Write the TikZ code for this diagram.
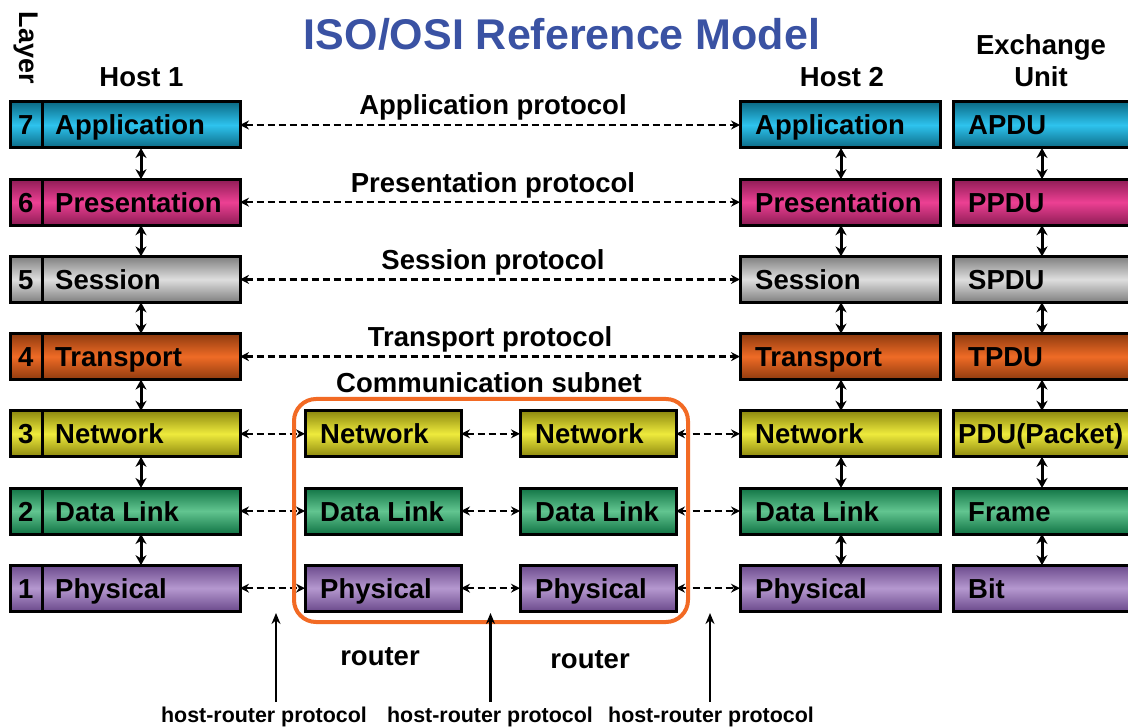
\documentclass[tikz,border=0pt]{standalone}
\usepackage{fontspec}
\setmainfont{Liberation Sans}
\usetikzlibrary{arrows.meta}
\definecolor{appL}{HTML}{2EC3EE}\definecolor{appD}{HTML}{0B6A85}
\definecolor{preL}{HTML}{EC4093}\definecolor{preD}{HTML}{8E1C55}
\definecolor{sesL}{HTML}{DEDEDE}\definecolor{sesD}{HTML}{7E7E7E}
\definecolor{traL}{HTML}{EF6B26}\definecolor{traD}{HTML}{8E3A0E}
\definecolor{netL}{HTML}{EEEA3C}\definecolor{netD}{HTML}{8C880F}
\definecolor{datL}{HTML}{62C590}\definecolor{datD}{HTML}{117445}
\definecolor{phyL}{HTML}{B598CF}\definecolor{phyD}{HTML}{6B4A8C}
\definecolor{subnetorange}{HTML}{F26A24}
\definecolor{titleblue}{HTML}{3A52A3}
\begin{document}
\begin{tikzpicture}[x=1pt,y=-1pt,
  layerbox/.style={draw=black, line width=3pt, minimum height=46pt, inner sep=0pt, outer sep=0pt},
  shapp/.style={top color=appD, bottom color=appD, middle color=appL},
  shpre/.style={top color=preD, bottom color=preD, middle color=preL},
  shses/.style={top color=sesD, bottom color=sesD, middle color=sesL},
  shtra/.style={top color=traD, bottom color=traD, middle color=traL},
  shnet/.style={top color=netD, bottom color=netD, middle color=netL},
  shdat/.style={top color=datD, bottom color=datD, middle color=datL},
  shphy/.style={top color=phyD, bottom color=phyD, middle color=phyL},
  lbl/.style={font=\bfseries\fontsize{27.5}{30}\selectfont, inner sep=0pt, anchor=base west},
  clbl/.style={font=\bfseries\fontsize{27.5}{30}\selectfont, inner sep=0pt, anchor=base},
  smlbl/.style={font=\bfseries\fontsize{21.4}{24}\selectfont, inner sep=0pt, anchor=base},
  vertarr/.style={line width=3pt, {Stealth[length=10pt,width=11pt]}-{Stealth[length=10pt,width=11pt]}},
  dasharr/.style={line width=2.5pt, dash pattern=on 7pt off 4pt, {Stealth[length=9pt,width=9pt]}-{Stealth[length=9pt,width=9pt]}},
  uparr/.style={line width=2.5pt, -{Stealth[length=11pt,width=9pt]}}
]
\useasboundingbox (0,0) rectangle (1128,727);
\clip (0,0) rectangle (1128,727);

% title and headers
\node[font=\bfseries\fontsize{43}{46}\selectfont, text=titleblue, inner sep=0pt, anchor=base] (title) at (562,50) {ISO/OSI Reference Model};
\node[font=\bfseries\fontsize{27}{30}\selectfont, inner sep=0pt, rotate=-90] (layer) at (26,48) {Layer};
\node[clbl] (host1) at (141.5,87) {Host 1};
\node[clbl] (host2) at (842,87) {Host 2};
\node[clbl] (exch1) at (1041,55) {Exchange};
\node[clbl] (exch2) at (1041,87) {Unit};

% hosts and exchange units, rows 7..1
\foreach \n/\y/\sh/\name/\pdu/\px in {7/125/shapp/Application/APDU/968,6/202.2/shpre/Presentation/PPDU/968,5/279.4/shses/Session/SPDU/968,4/356.6/shtra/Transport/TPDU/968,3/433.8/shnet/Network/PDU(Packet)/958,2/511/shdat/Data Link/Frame/968,1/588.2/shphy/Physical/Bit/968}{
  \node[layerbox,\sh,minimum width=230] (ha\n) at (125,\y) {};
  \draw[line width=3pt] (42,\y-23) -- (42,\y+23);
  \node[lbl] (hanum\n) at (18,\y+10) {\n};
  \node[lbl] (hatxt\n) at (55,\y+10) {\name};
  \node[layerbox,\sh,minimum width=200] (hb\n) at (840,\y) {};
  \node[lbl] (hbtxt\n) at (755,\y+10) {\name};
  \node[layerbox,\sh,minimum width=187] (ex\n) at (1046.5,\y) {};
  \node[lbl] (extxt\n) at (\px,\y+10) {\pdu};
}

% routers, rows 3..1
\foreach \n/\y/\sh/\name in {3/433.8/shnet/Network,2/511/shdat/Data Link,1/588.2/shphy/Physical}{
  \node[layerbox,\sh,minimum width=156] (ra\n) at (383,\y) {};
  \node[lbl] (ratxt\n) at (320,\y+10) {\name};
  \node[layerbox,\sh,minimum width=156] (rb\n) at (598,\y) {};
  \node[lbl] (rbtxt\n) at (535,\y+10) {\name};
}

% vertical arrows
\foreach \a/\b in {7/6,6/5,5/4,4/3,3/2,2/1}{
  \draw[vertarr] ([xshift=16pt]ha\a.south) -- ([xshift=16pt]ha\b.north);
  \draw[vertarr] ([xshift=1pt]hb\a.south) -- ([xshift=1pt]hb\b.north);
  \draw[vertarr] ([xshift=-4.5pt]ex\a.south) -- ([xshift=-4.5pt]ex\b.north);
}

% peer protocols
\foreach \n in {7,6,5,4}{
  \draw[dasharr] (ha\n.east) -- (hb\n.west);
}
\foreach \n in {3,2,1}{
  \draw[dasharr] (ha\n.east) -- (ra\n.west);
  \draw[dasharr] (ra\n.east) -- (rb\n.west);
  \draw[dasharr] (rb\n.east) -- (hb\n.west);
}
\node[clbl] (papp) at (493,115) {Application protocol};
\node[clbl] (ppre) at (493,192.2) {Presentation protocol};
\node[clbl] (pses) at (493,269.4) {Session protocol};
\node[clbl] (ptra) at (490,346.6) {Transport protocol};
\node[clbl] (psub) at (489,392) {Communication subnet};

% communication subnet frame
\node[draw=subnetorange, line width=4pt, rounded corners=22pt, minimum width=394, minimum height=223, inner sep=0pt] (subnet) at (491,510.5) {};

% routers and host-router protocols
\node[clbl] (router1) at (380,665) {router};
\node[clbl] (router2) at (590,668) {router};
\node[smlbl] (hrp1) at (264,722) {host-router protocol};
\node[smlbl] (hrp2) at (490,722) {host-router protocol};
\node[smlbl] (hrp3) at (711,722) {host-router protocol};
\coordinate (b1) at (276,702); \coordinate (t1) at (276,613);
\coordinate (b2) at (490.5,702); \coordinate (t2) at (490.5,613);
\coordinate (b3) at (710,702); \coordinate (t3) at (710,613);
\draw[uparr] (b1) -- (t1);
\draw[uparr] (b2) -- (t2);
\draw[uparr] (b3) -- (t3);
\end{tikzpicture}
\end{document}
